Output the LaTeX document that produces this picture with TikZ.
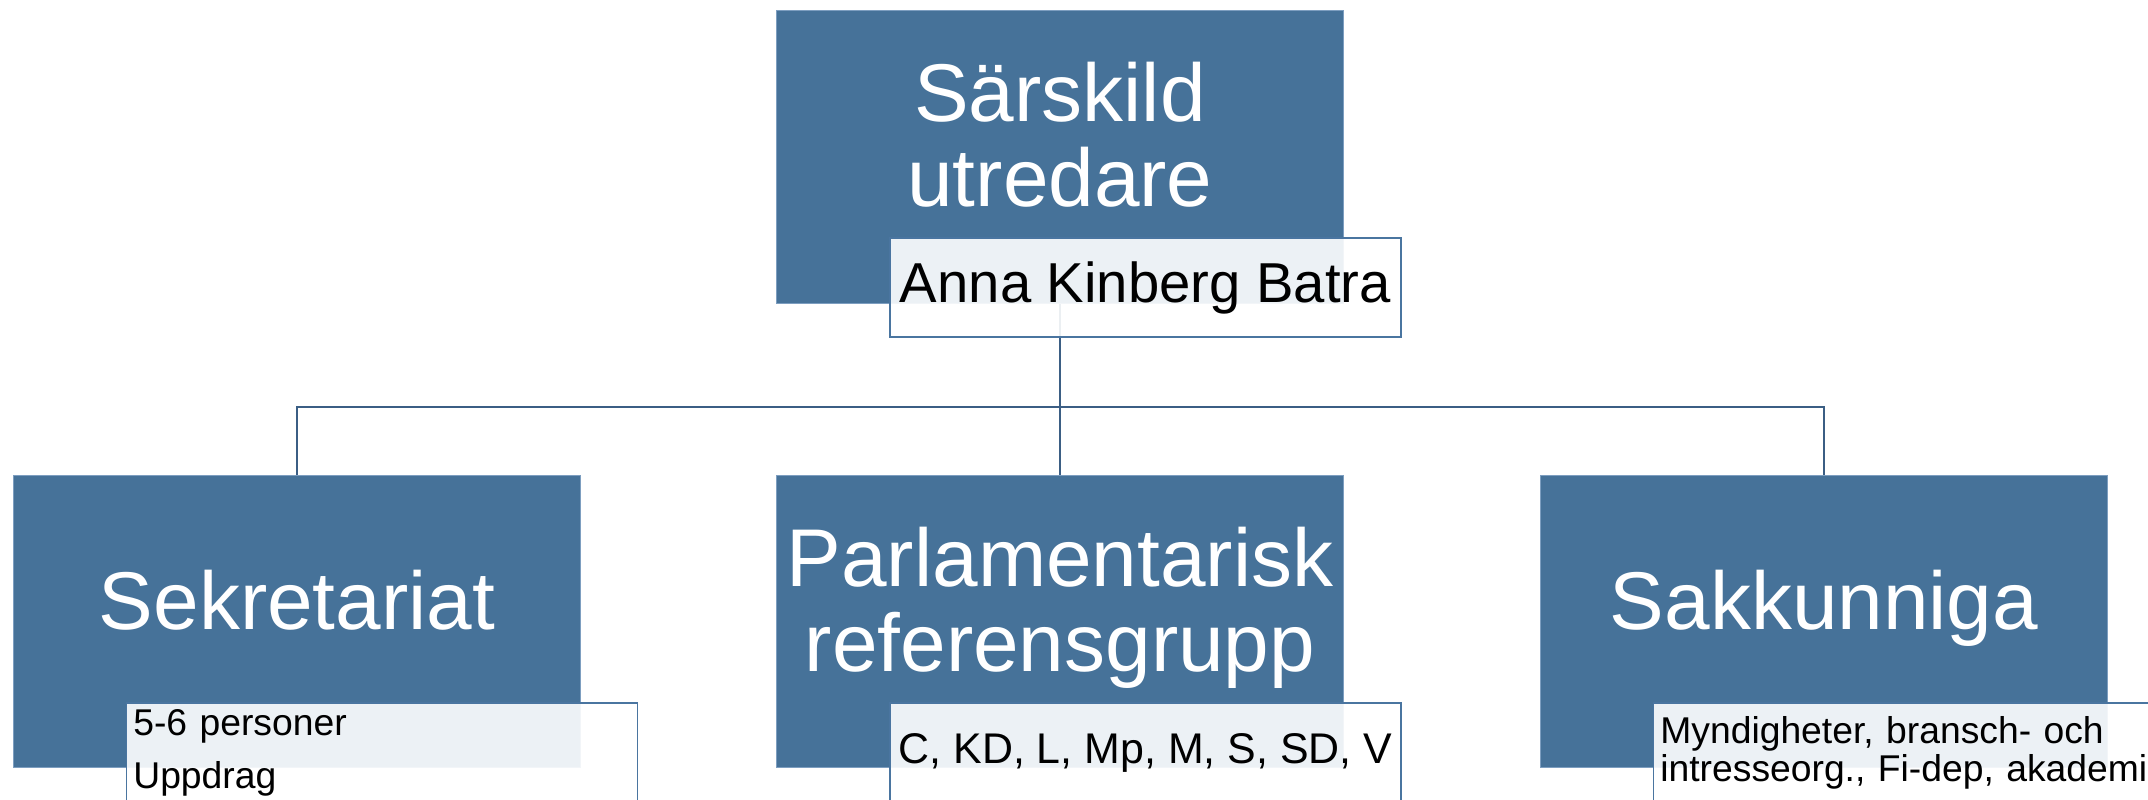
\documentclass[tikz,border=0pt]{standalone}
\usepackage{fontspec}
\setmainfont{Liberation Sans}
\usepackage{xcolor}
\usepackage{tikz}
\usetikzlibrary{positioning, backgrounds}
\definecolor{rolecolor}{RGB}{70,114,153}
\definecolor{roleedge}{RGB}{125,158,192}
\definecolor{noteedge}{RGB}{74,117,160}
\definecolor{linkcolor}{RGB}{59,94,132}

\tikzset{
  role/.style={fill=rolecolor, draw=roleedge, line width=0.3pt, minimum width=5.66cm, minimum height=2.92cm, inner sep=0pt},
  roletext/.style={text=white, align=center, font=\fontsize{23.3}{24.2}\selectfont, inner sep=0pt},
  note/.style={fill=white, fill opacity=0.9, text opacity=1, draw=noteedge, line width=0.45pt, minimum width=5.11cm, minimum height=0.99cm, inner xsep=0.07cm, inner ysep=0pt},
  link/.style={draw=linkcolor, line width=0.65pt},
}

\begin{document}
\begin{tikzpicture}[x=0.01cm, y=-0.01cm]
    \useasboundingbox (0,0) rectangle (2148,799);
    \clip (0,0) rectangle (2148,799);

    % Top level
    \node[role] (lead) at (1060,157) {};
    \node[roletext] (leadtext) at (1060,134.5) {Särskild\\utredare};
    \node[note, font=\fontsize{16}{19}\selectfont] (leadname) at (1145.5,287.5) {Anna Kinberg Batra};

    % Second level
    \node[role] (sek) at (297,621.5) {};
    \node[roletext, anchor=base] (sektext) at (297,629) {Sekretariat};
    \node[role] (parl) at (1060,621.5) {};
    \node[roletext] (parltext) at (1060,608) {Parlamentarisk\\referensgrupp};
    \node[role] (sak) at (1824,621.5) {};
    \node[roletext, anchor=base] (saktext) at (1824,629) {Sakkunniga};

    \node[note, text width=4.97cm, align=left, font=\fontsize{10.6}{15.1}\selectfont] (sekinfo) at (382,752.5) {5-6 personer\\Uppdrag};
    \node[note, font=\fontsize{12.2}{14}\selectfont] (parlinfo) at (1145.5,752.5) {C, KD, L, Mp, M, S, SD, V};
    \node[note, text width=4.97cm, align=left, font=\fontsize{10.6}{10.8}\selectfont] (sakinfo) at (1909,752.5) {Myndigheter, bransch- och\\intresseorg., Fi-dep, akademi};

    % Connectors
    \begin{scope}[on background layer]
        \coordinate (hub) at (1060,407);
        \draw[link] (lead.south) -- (hub);
        \draw[link] (hub) -| (sek.north);
        \draw[link] (hub) -- (parl.north);
        \draw[link] (hub) -| (sak.north);
    \end{scope}
\end{tikzpicture}
\end{document}
